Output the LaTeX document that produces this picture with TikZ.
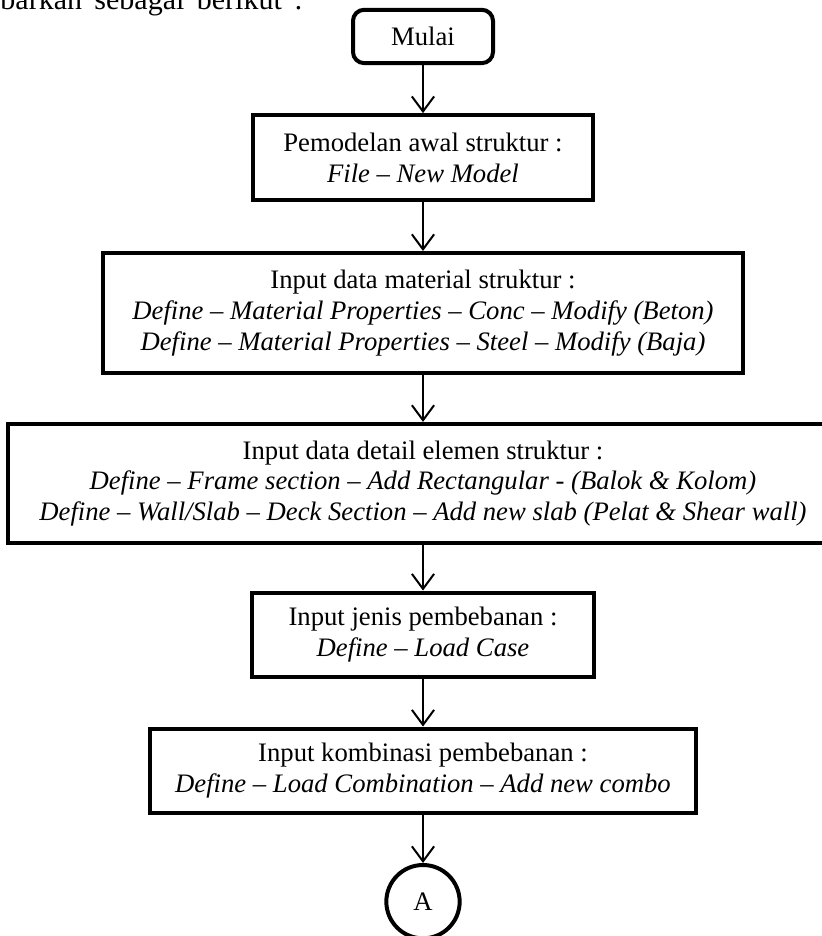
\documentclass[tikz,border=0pt]{standalone}
\usepackage{fontspec}
\setmainfont{Liberation Serif}
\usetikzlibrary{arrows.meta, positioning}

\begin{document}
\begin{tikzpicture}[node distance=21.6pt,
    terminal/.style={rectangle, draw, line width=1.8pt, rounded corners=5pt, minimum width=63pt, minimum height=24pt, font=\fontsize{12}{13.8}\selectfont},
    block/.style={rectangle, draw, line width=1.8pt, align=center, inner sep=0pt, minimum height=37.8pt, font=\fontsize{12}{13.8}\selectfont},
    connector/.style={circle, draw, line width=1.8pt, minimum size=33pt, inner sep=0pt, font=\fontsize{12}{13.8}\selectfont},
    arrow/.style={-{Straight Barb[length=6.75pt, width=10pt]}, line width=0.9pt}]

    \useasboundingbox (0,0) rectangle (369.9pt,-421.2pt);

    \node[anchor=base west, inner sep=0pt, font=\fontsize{13.5}{15}\selectfont] (intro) at (0pt,-4.2pt) {\makebox[136pt][s]{barkan sebagai berikut :}};

    \node[terminal] (mulai) at (190.35pt,-16.4pt) {Mulai};
    \node[block, below=of mulai, minimum width=153pt, minimum height=38.25pt] (model) {Pemodelan awal struktur :\\ \textit{File – New Model}};
    \node[block, below=22pt of model, minimum width=288pt, minimum height=54.1pt] (material) {Input data material struktur :\\ \textit{Define – Material Properties – Conc – Modify (Beton)}\\ \textit{Define – Material Properties – Steel – Modify (Baja)}};
    \node[block, below=21pt of material, minimum width=373.5pt, minimum height=53.5pt] (detail) {Input data detail elemen struktur :\\ \textit{Define – Frame section – Add Rectangular - (Balok \& Kolom)}\\ \textit{Define – Wall/Slab – Deck Section – Add new slab (Pelat \& Shear wall)}};
    \node[block, below=20.6pt of detail, minimum width=154pt] (jenis) {Input jenis pembebanan :\\ \textit{Define – Load Case}};
    \node[block, below=21.6pt of jenis, minimum width=246pt] (kombinasi) {Input kombinasi pembebanan :\\ \textit{Define – Load Combination – Add new combo}};
    \node[connector, below=21.8pt of kombinasi] (a) {A};

    \draw[arrow] (mulai) -- (model);
    \draw[arrow] (model) -- (material);
    \draw[arrow] (material) -- (detail);
    \draw[arrow] (detail) -- (jenis);
    \draw[arrow] (jenis) -- (kombinasi);
    \draw[arrow] (kombinasi) -- (a);
\end{tikzpicture}
\end{document}
